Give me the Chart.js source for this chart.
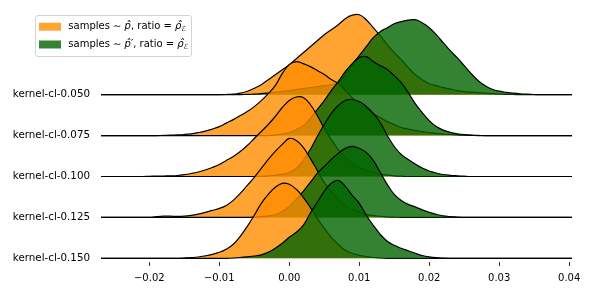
<!DOCTYPE html>
<html>
<head>
<meta charset="utf-8">
<script src="https://cdn.jsdelivr.net/npm/chart.js@4"></script>
<style>body{margin:0;background:#fff}</style>
</head>
<body>
<canvas id="ridge" width="592" height="296"></canvas>
<script>
// x positions of the density samples (shared by every ridge)
const xGrid = Array.from({length: 69}, (_, i) => +(-0.027 + i * 0.001).toFixed(3));
const xTicks = [-0.02, -0.01, 0.00, 0.01, 0.02, 0.03, 0.04];
const rowLabels = ['kernel-cl-0.050', 'kernel-cl-0.075', 'kernel-cl-0.100', 'kernel-cl-0.125', 'kernel-cl-0.150'];

// densities, samples ~ p-hat (orange)
const orange050 = [0,0,0,0,0,0,0,0,0,0, 0,0,0,0,0,0,0,0,0.2,0.6, 1.5,3.5,6.5,10,15,20,25,30,36,42,
  48,54,60,65,70,76,79.5,80,75,67, 59,50,42,35,27,20,15,11,9,7, 5.5,4,3,2.5,2,1.5,1,0.7,0.4,0.2, 0,0,0,0,0,0,0,0,0];
const orange075 = [0,0,0,0,0,0,0,0,0,0.2, 0.4,0.7,1.1,1.8,3,4.5,6.5,9,12.5,16, 20,24,29,35,42,50,62,71,74,72,
  69,65,61,56,52,45,38,32,27,22, 18,14,11,8,6.5,5,4,3,2.3,1.6, 1.1,0.7,0.4,0.2,0,0,0,0,0,0, 0,0,0,0,0,0,0,0,0];
const orange100 = [0,0,0,0,0,0,0,0.2,0.4,0.5, 0.7,1,1.8,3,4.5,6.5,9,12,16,20, 25,31,38,45,52,60,69,76,79.5,79,
  72,61,48,37,27,19,13,9,6,4, 2.5,1.4,0.7,0.3,0,0,0,0,0,0, 0,0,0,0,0,0,0,0,0,0, 0,0,0,0,0,0,0,0,0];
const orange125 = [0,0,0,0,0,0,0,0,0.8,1.3, 1.2,1,1.2,2,3.3,5,7,9,12,17, 24,32,40,49,58,66,73,79,77,70,
  59,47,35,26,18,12,8,5,3,1.7, 1,0.5,0.2,0,0,0,0,0,0,0, 0,0,0,0,0,0,0,0,0,0, 0,0,0,0,0,0,0,0,0];
const orange150 = [0,0,0,0,0,0,0,0,0,0, 0,0,0.3,0.7,1.3,2.5,4,6,9,14, 22,32,43,55,64,71,75,74,69,61,
  51,40,30,21,14,8,5,3,1.7,0.8, 0.3,0,0,0,0,0,0,0,0,0, 0,0,0,0,0,0,0,0,0,0, 0,0,0,0,0,0,0,0,0];

// densities, samples ~ p-hat' (green)
const green050 = [0,0,0,0,0,0,0,0,0,0, 0,0,0,0,0,0,0,0,0,0, 0,0.3,0.6,1,1.7,2.5,3.2,4,5,6,
  7,8,9,10,12,20,30,39,48,57, 63,67,71,73,74.5,75,72,67,60,52, 44,37,29,21,14,9,5.5,3.5,2.3,1.5, 0.9,0.5,0.2,0,0,0,0,0,0];
const green075 = [0,0,0,0,0,0,0,0,0,0, 0,0,0,0,0,0,0,0,0,0, 0,0,0,0,0,0.5,1.5,3,6,10,
  17,26,35,45,54,64,72,78,79,74, 70,66,60,53,43,32,23,15,9,5.5, 3.3,1.8,0.9,0.4,0.2,0,0,0,0,0, 0,0,0,0,0,0,0,0,0];
const green100 = [0,0,0,0,0,0,0,0,0,0, 0,0,0,0,0,0,0,0,0,0, 0,0,0,0.3,0.7,1.3,2.3,4,8,16,
  27,40,52,63,71,76,77,75,70,63, 54,41,30,22,17,12.5,8.5,5.5,3.5,2, 1.2,0.7,0.3,0,0,0,0,0,0,0, 0,0,0,0,0,0,0,0,0];
const green125 = [0,0,0,0,0,0,0,0,0,0, 0,0,0,0,0,0,0,0,0,0, 0,0,0.3,0.7,1.5,2.7,6,11,18,26,
  35,44,51,58,64,69,71,69,65,57, 45,33,23,17,13,10.5,7.5,5,3,1.5, 0.8,0.4,0.1,0,0,0,0,0,0,0, 0,0,0,0,0,0,0,0,0];
const green150 = [0,0,0,0,0,0,0,0,0,0, 0,0,0,0,0,0,0,0,0,0.3, 0.8,1.5,2.3,3.5,6,10,15,21,26,33,
  45,56,67,75,78,72,63,55,43,33, 24,17,13,10,7.5,5,2.8,1.4,0.6,0.2, 0,0,0,0,0,0,0,0,0,0, 0,0,0,0,0,0,0,0,0];

const orangeRows = [orange050, orange075, orange100, orange125, orange150];
const greenRows = [green050, green075, green100, green125, green150];

const ROW_GAP = 40.9;      // vertical offset between ridges, in density units
const ORANGE = 'rgba(255,140,0,0.8)';
const GREEN = 'rgba(0,100,0,0.8)';

const legendItems = [
  {color: ORANGE, parts: [['samples \u223c ', 'n'], ['p\u0302', 'i'], [', ratio = ', 'n'], ['\u03c1\u0302', 'i'], ['\u2130', 'sub']]},
  {color: GREEN, parts: [['samples \u223c ', 'n'], ['p\u0302', 'i'], ['\u2032', 'n'], [', ratio = ', 'n'], ['\u03c1\u0302', 'i'], ['\u2130', 'sub']]}
];

function ridge(dens, row, color) {
  const base = (rowLabels.length - 1 - row) * ROW_GAP;
  return {
    data: xGrid.map((x, i) => ({x: x, y: base + dens[i]})),
    backgroundColor: color,
    borderColor: '#000',
    borderWidth: 1.2,
    pointRadius: 0,
    tension: 0.4,
    fill: {value: base}
  };
}

const datasets = [];
rowLabels.forEach((lab, r) => {
  datasets.push(ridge(orangeRows[r], r, ORANGE));
  datasets.push(ridge(greenRows[r], r, GREEN));
});
// first pushed is drawn first (lowest in the stack)
datasets.forEach((d, k) => { d.order = datasets.length - k; });

const boxLegend = {
  id: 'boxLegend',
  afterDraw(chart) {
    const ctx = chart.ctx;
    ctx.save();
    ctx.beginPath();
    ctx.roundRect(35.5, 15.5, 156, 41, 2.5);
    ctx.fillStyle = 'rgba(255,255,255,0.8)';
    ctx.fill();
    ctx.strokeStyle = '#d4d4d4';
    ctx.lineWidth = 1;
    ctx.stroke();
    ctx.textBaseline = 'middle';
    legendItems.forEach((item, k) => {
      const y = 26.7 + k * 17.8;
      ctx.fillStyle = item.color;
      ctx.fillRect(39, y - 4, 22, 8);
      let x = 68.3;
      ctx.fillStyle = '#000';
      item.parts.forEach(([txt, kind]) => {
        if (kind === 'sub') {
          ctx.font = 'italic 7px "DejaVu Sans"';
          ctx.fillText(txt, x, y + 2.5);
        } else {
          ctx.font = (kind === 'i' ? 'italic ' : '') + '10px "DejaVu Sans"';
          ctx.fillText(txt, x, y);
        }
        x += ctx.measureText(txt).width;
      });
    });
    ctx.restore();
  }
};

Chart.defaults.font.family = '"DejaVu Sans"';
Chart.defaults.font.size = 10;
Chart.defaults.color = '#000';

new Chart(document.getElementById('ridge'), {
  type: 'line',
  data: {datasets: datasets},
  options: {
    responsive: false,
    animation: false,
    layout: {padding: {left: 0, right: 20, top: 0, bottom: 0}},
    plugins: {legend: {display: false}, tooltip: {enabled: false}},
    scales: {
      x: {
        type: 'linear',
        min: -0.0269,
        max: 0.0404,
        afterBuildTicks: s => { s.ticks = xTicks.map(v => ({value: v})); },
        afterFit: s => { s.height = 34; },
        ticks: {
          padding: 6,
          maxRotation: 0,
          callback: v => (v < -1e-9 ? '\u2212' : '') + Math.abs(v).toFixed(2)
        },
        grid: {drawOnChartArea: false, drawTicks: true, tickLength: 4, color: '#333'},
        border: {display: false}
      },
      y: {
        type: 'linear',
        min: -3.7,
        max: 258.3,
        afterBuildTicks: s => { s.ticks = rowLabels.map((_, r) => ({value: (rowLabels.length - 1 - r) * ROW_GAP})); },
        afterFit: s => { s.width = 101; s.paddingTop = 0; s.paddingBottom = 0; },
        ticks: {
          padding: 11,
          font: {size: 10.3},
          callback: v => rowLabels[rowLabels.length - 1 - Math.round(v / ROW_GAP)]
        },
        grid: {display: false, drawTicks: false},
        border: {display: false}
      }
    }
  },
  plugins: [boxLegend]
});
</script>
</body>
</html>
